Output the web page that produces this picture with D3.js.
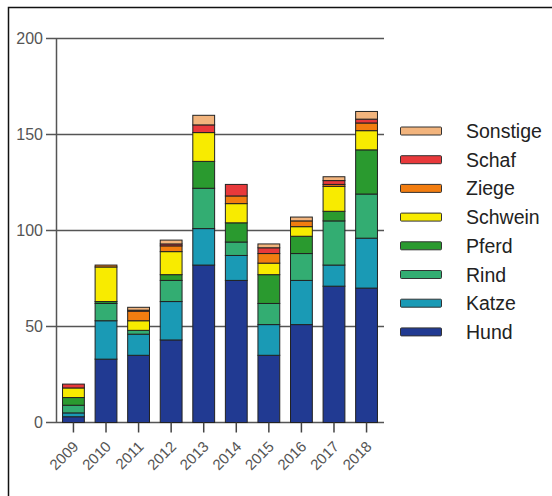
<!DOCTYPE html>
<html>
<head>
<meta charset="utf-8">
<script src="https://cdn.jsdelivr.net/npm/d3@7"></script>
<style>
  body { margin: 0; background: #fff; }
  svg { display: block; font-family: "Liberation Sans", Arial, sans-serif; }
</style>
</head>
<body>
<div id="chart"></div>
<script>
const years = ["2009", "2010", "2011", "2012", "2013", "2014", "2015", "2016", "2017", "2018"];
const species = ["Hund", "Katze", "Rind", "Pferd", "Schwein", "Ziege", "Schaf", "Sonstige"];
const colors = ["#213a92", "#1a9ab5", "#33ad72", "#2a9a2f", "#f8eb00", "#f27d10", "#e8393b", "#f2b47d"];

const hund     = [3, 33, 35, 43, 82, 74, 35, 51, 71, 70];
const katze    = [2, 20, 11, 20, 19, 13, 16, 23, 11, 26];
const rind     = [4, 9, 2, 11, 21, 7, 11, 14, 23, 23];
const pferd    = [4, 1, 0, 3, 14, 10, 15, 9, 5, 23];
const schwein  = [5, 18, 5, 12, 15, 10, 6, 5, 13, 10];
const ziege    = [0, 1, 5, 3, 0, 4, 5, 3, 1, 4];
const schaf    = [2, 0, 0.5, 1, 4, 6, 3, 0, 2, 2];
const sonstige = [0, 0, 1.5, 2, 5, 0, 2, 2, 2, 4];
const yTicks = [0, 50, 100, 150, 200];

const series = [hund, katze, rind, pferd, schwein, ziege, schaf, sonstige];
const table = years.map((y, i) => {
  const row = { year: y };
  species.forEach((s, j) => (row[s] = series[j][i]));
  return row;
});

const width = 552;
const height = 496;

const x = d3.scaleBand().domain(years).range([57, 383]).paddingInner(0.33).paddingOuter(0.17);
const y = d3.scaleLinear().domain([0, 200]).range([422.5, 38.5]);
const color = d3.scaleOrdinal().domain(species).range(colors);

const stacked = d3.stack().keys(species)(table);

const svg = d3.select("#chart")
  .append("svg")
  .attr("width", width)
  .attr("height", height)
  .attr("viewBox", [0, 0, width, height]);

// frame
svg.append("path")
  .attr("d", "M8.5,496V7.5H552")
  .attr("fill", "none")
  .attr("stroke", "#111")
  .attr("stroke-width", 1.5);

// grid + y axis
svg.append("g")
  .selectAll("line")
  .data(yTicks)
  .join("line")
  .attr("x1", 46)
  .attr("x2", 384)
  .attr("y1", (d) => y(d))
  .attr("y2", (d) => y(d))
  .attr("stroke", "#555")
  .attr("stroke-width", 1.5);

svg.append("g")
  .selectAll("text")
  .data(yTicks)
  .join("text")
  .attr("x", 43)
  .attr("y", (d) => y(d))
  .attr("dy", "0.36em")
  .attr("text-anchor", "end")
  .attr("fill", "#555")
  .attr("font-size", 16)
  .text((d) => d);

svg.append("line")
  .attr("x1", 56.5)
  .attr("x2", 56.5)
  .attr("y1", y(200))
  .attr("y2", y(0))
  .attr("stroke", "#555")
  .attr("stroke-width", 1.5);

// bars
svg.append("g")
  .selectAll("g")
  .data(stacked)
  .join("g")
  .attr("fill", (d) => color(d.key))
  .selectAll("rect")
  .data((d) => d.filter((p) => p[1] - p[0] > 0))
  .join("rect")
  .attr("x", (d) => x(d.data.year))
  .attr("y", (d) => y(d[1]))
  .attr("width", x.bandwidth())
  .attr("height", (d) => y(d[0]) - y(d[1]))
  .attr("stroke", "#222")
  .attr("stroke-width", 1);

// x ticks + labels
const xg = svg.append("g")
  .selectAll("g")
  .data(years)
  .join("g")
  .attr("transform", (d) => `translate(${x(d) + x.bandwidth() / 2},${y(0)})`);
xg.append("line")
  .attr("y1", 0)
  .attr("y2", 10)
  .attr("stroke", "#444")
  .attr("stroke-width", 1.5);
xg.append("text")
  .attr("transform", "translate(6,25) rotate(-45)")
  .attr("text-anchor", "end")
  .attr("fill", "#555")
  .attr("font-size", 15)
  .text((d) => d);

// legend
const legendItems = species.slice().reverse();
const legend = svg.append("g")
  .selectAll("g")
  .data(legendItems)
  .join("g")
  .attr("transform", (d, i) => `translate(400,${131 + i * 28.7})`);
legend.append("rect")
  .attr("x", 0.5)
  .attr("y", -4)
  .attr("width", 41)
  .attr("height", 8)
  .attr("rx", 1)
  .attr("fill", (d) => color(d))
  .attr("stroke", "#333")
  .attr("stroke-width", 1);
legend.append("text")
  .attr("x", 66)
  .attr("dy", "0.36em")
  .attr("fill", "#222")
  .attr("font-size", 19.5)
  .text((d) => d);
</script>
</body>
</html>
